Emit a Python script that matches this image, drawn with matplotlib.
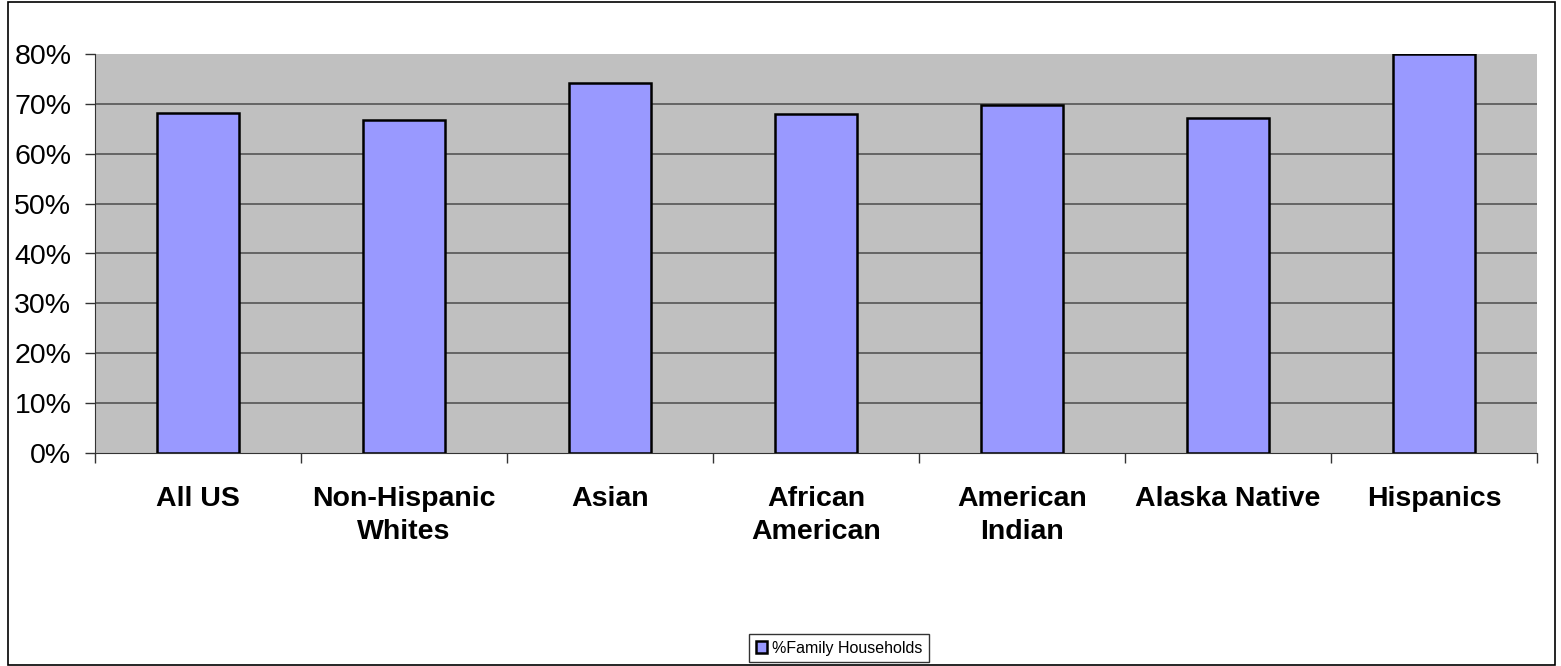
import matplotlib.pyplot as plt
from matplotlib.patches import Rectangle
from matplotlib.ticker import FixedLocator, NullFormatter

plt.rcParams['font.family'] = ['Liberation Sans', 'DejaVu Sans']

categories = ["All US", "Non-Hispanic\nWhites", "Asian", "African\nAmerican",
              "American\nIndian", "Alaska Native", "Hispanics"]
family_pct = [68.1, 66.8, 74.2, 68.0, 69.8, 67.1, 80.0]
y_ticks = [0, 10, 20, 30, 40, 50, 60, 70, 80]
y_labels = [str(v) + "%" for v in y_ticks]

fig = plt.figure(figsize=(15.61, 6.66), dpi=100)
ax = fig.add_axes([95 / 1561, 1 - 453 / 666, (1537 - 95) / 1561, (453 - 54) / 666])

# outer frame of the chart
fig.patches.append(Rectangle((8 / 1561, 1 / 666), (1555 - 8) / 1561, (664 - 1) / 666,
                             transform=fig.transFigure, fill=False,
                             edgecolor="black", linewidth=1.2))

ax.set_facecolor("#C0C0C0")
x = list(range(len(categories)))
ax.bar(x, family_pct, width=0.4, color="#9999FF", edgecolor="black",
       linewidth=1.8, label="%Family Households", zorder=3)

ax.set_xlim(-0.5, len(categories) - 0.5)
ax.set_ylim(0, 80)
ax.set_yticks(y_ticks)
ax.set_yticklabels(y_labels, fontsize=20.5)
for v in y_ticks[1:-1]:
    ax.axhline(v, color="#555555", linewidth=1.2, zorder=1)

ax.set_xticks(x)
ax.set_xticklabels(categories, fontsize=20.5, fontweight="bold", linespacing=1.35)
ax.tick_params(axis="x", which="major", length=0, pad=24)
ax.xaxis.set_minor_locator(FixedLocator([i - 0.5 for i in range(len(categories) + 1)]))
ax.xaxis.set_minor_formatter(NullFormatter())
ax.tick_params(axis="x", which="minor", length=7, width=1, color="#333333")
ax.tick_params(axis="y", length=7, width=1, color="#333333", pad=10)

for s in ["top", "right"]:
    ax.spines[s].set_visible(False)
ax.spines["left"].set_color("#333333")
ax.spines["bottom"].set_color("#333333")

leg = fig.legend(loc="center", bbox_to_anchor=(839 / 1561, 1 - 648 / 666),
                 fontsize=11.5, frameon=True, fancybox=False, edgecolor="black",
                 handlelength=0.7, handleheight=0.7, handletextpad=0.3,
                 borderpad=0.4)
leg.get_frame().set_linewidth(1.0)

fig.savefig("out.png", dpi=100)
